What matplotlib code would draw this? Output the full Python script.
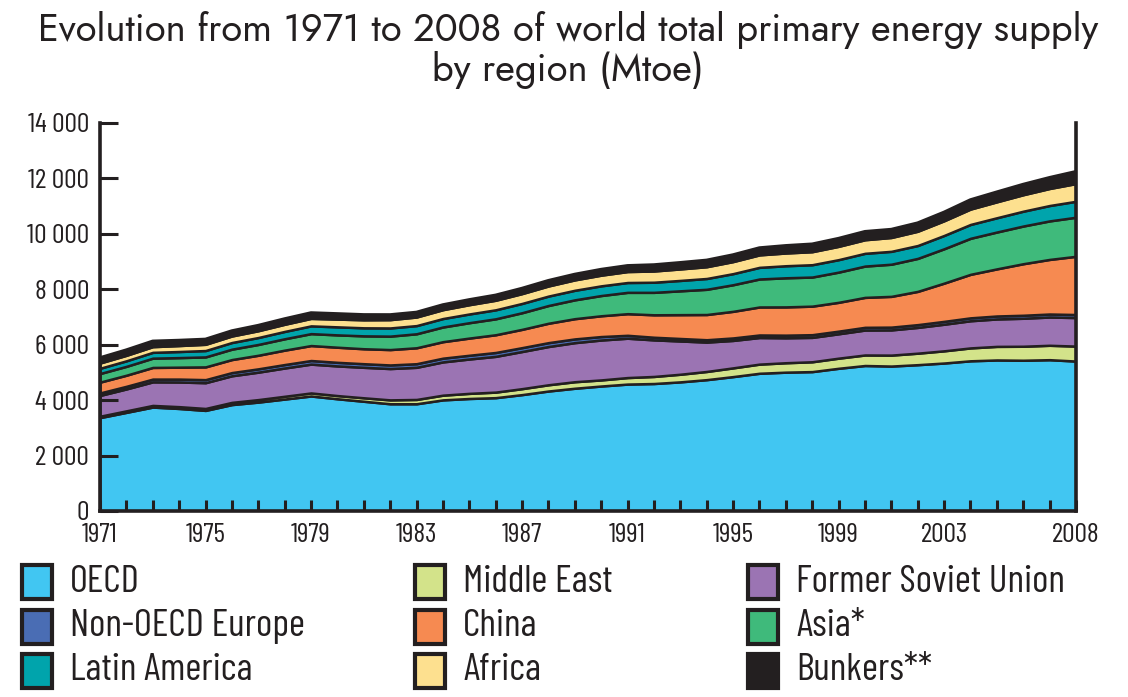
import matplotlib
matplotlib.use("Agg")
import matplotlib.pyplot as plt
from matplotlib.patches import Rectangle
import numpy as np

years = list(range(1971, 2009))

oecd = [3370, 3560, 3750, 3700, 3630, 3840, 3930, 4040, 4150, 4050, 3960, 3870, 3870,
        4010, 4060, 4090, 4200, 4330, 4430, 4510, 4580, 4600, 4660, 4740, 4850, 4970,
        5010, 5030, 5150, 5250, 5230, 5280, 5340, 5420, 5450, 5440, 5460, 5410]
middle_east = [50, 55, 60, 65, 70, 80, 90, 100, 110, 115, 125, 140, 155, 170, 185, 200,
               215, 225, 235, 220, 235, 255, 275, 295, 315, 330, 340, 355, 365, 380, 395,
               415, 440, 465, 490, 505, 520, 540]
fsu = [750, 790, 850, 890, 930, 960, 990, 1020, 1040, 1070, 1100, 1130, 1160, 1200, 1240,
       1290, 1340, 1380, 1410, 1440, 1420, 1320, 1200, 1060, 990, 960, 900, 880, 880, 900,
       910, 930, 960, 980, 990, 1010, 1020, 1030]
non_oecd_europe = [90, 95, 100, 105, 110, 115, 120, 125, 130, 130, 130, 130, 130, 135, 135,
                   140, 140, 140, 135, 125, 105, 95, 90, 85, 90, 92, 95, 97, 95, 98, 100,
                   100, 103, 105, 107, 108, 108, 110]
china = [390, 400, 420, 430, 460, 470, 490, 520, 540, 545, 540, 555, 575, 595, 620, 640,
         660, 700, 730, 750, 780, 810, 860, 910, 960, 1010, 1020, 1030, 1040, 1080, 1110,
         1200, 1380, 1570, 1700, 1860, 1970, 2100]
asia = [310, 320, 335, 345, 360, 375, 390, 410, 430, 445, 465, 485, 505, 530, 555, 575,
        600, 640, 680, 730, 770, 810, 860, 910, 960, 1010, 1050, 1050, 1090, 1130, 1160,
        1190, 1240, 1300, 1330, 1360, 1390, 1410]
latin_america = [190, 200, 210, 220, 230, 240, 250, 265, 280, 290, 290, 295, 295, 305, 315,
                 325, 335, 340, 345, 350, 355, 365, 375, 390, 400, 420, 435, 445, 450, 460,
                 465, 465, 480, 500, 515, 535, 555, 575]
africa = [190, 198, 205, 215, 225, 235, 245, 258, 270, 280, 290, 300, 310, 320, 335, 345,
          355, 365, 375, 385, 395, 405, 415, 425, 435, 450, 460, 470, 480, 490, 500, 515,
          530, 555, 575, 595, 615, 640]
bunkers = [175, 180, 185, 175, 170, 172, 178, 183, 188, 180, 170, 163, 158, 162, 166, 170,
           176, 182, 188, 195, 200, 210, 215, 222, 230, 240, 252, 262, 272, 282, 278, 285,
           295, 320, 340, 360, 380, 420]

stack_order = ["OECD", "Middle East", "Former Soviet Union", "Non-OECD Europe", "China",
               "Asia*", "Latin America", "Africa", "Bunkers**"]
stack_values = [oecd, middle_east, fsu, non_oecd_europe, china, asia, latin_america,
                africa, bunkers]
colors = {
    "OECD": "#41c6f2",
    "Middle East": "#d3e38a",
    "Former Soviet Union": "#9b74b3",
    "Non-OECD Europe": "#4a6db4",
    "China": "#f68a51",
    "Asia*": "#3fba7b",
    "Latin America": "#00a4ac",
    "Africa": "#fde08f",
    "Bunkers**": "#231f20",
}
legend_cols = [["OECD", "Non-OECD Europe", "Latin America"],
               ["Middle East", "China", "Africa"],
               ["Former Soviet Union", "Asia*", "Bunkers**"]]

xtick_labels = [1971, 1975, 1979, 1983, 1987, 1991, 1995, 1999, 2003, 2008]
yticks = list(range(0, 14001, 2000))

DARK = "#231f20"
COND = ["Barlow Condensed", "DejaVu Sans"]
W, H = 1128, 697
fig = plt.figure(figsize=(W / 100, H / 100), dpi=100)
ax = fig.add_axes([100 / W, 1 - 511 / H, (1076 - 100) / W, (511 - 123) / H])

ax.stackplot(years, *stack_values, colors=[colors[n] for n in stack_order],
             edgecolor=DARK, linewidth=1.8)
ax.plot(years, np.sum(stack_values, axis=0), color=DARK, lw=2.8, solid_joinstyle="round")

ax.set_xlim(1971, 2008)
ax.set_ylim(0, 14000)
for s in ["left", "bottom", "right"]:
    ax.spines[s].set_linewidth(2.6)
    ax.spines[s].set_color(DARK)
    ax.spines[s].set_zorder(5)
ax.spines["top"].set_visible(False)

tickfont = dict(family=COND, size=20)
ax.set_xticks(years)
ax.set_xticklabels([str(y) if y in xtick_labels else "" for y in years], **tickfont)
ax.set_yticks(yticks)
ax.set_yticklabels([f"{v:,}".replace(",", " ") for v in yticks], **tickfont)
ax.tick_params(axis="x", direction="in", length=8, width=2.2, color=DARK, pad=9,
               labelcolor=DARK)
ax.tick_params(axis="y", direction="in", length=13, width=2.2, color=DARK, pad=8,
               labelcolor=DARK)
for t in ax.xaxis.get_major_ticks() + ax.yaxis.get_major_ticks():
    t.tick1line.set_zorder(6)

titlefont = dict(family=["Jost", "DejaVu Sans"], size=27.5, color=DARK)
fig.text(568 / W, 1 - 30 / H, "Evolution from 1971 to 2008 of world total primary energy supply",
         ha="center", va="center", **titlefont)
fig.text(568 / W, 1 - 70 / H, "by region (Mtoe)", ha="center", va="center", **titlefont)

col_x = [22, 415, 748]
row_y = [582, 627, 671]
legfont = dict(family=COND, size=28, color=DARK)
for cx, names in zip(col_x, legend_cols):
    for ry, name in zip(row_y, names):
        fig.add_artist(Rectangle((cx / W, 1 - (ry + 17) / H), 30 / W, 34 / H,
                                 transform=fig.transFigure, facecolor=colors[name],
                                 edgecolor=DARK, linewidth=3))
        fig.text((cx + 48) / W, 1 - ry / H, name, ha="left", va="center", **legfont)

fig.savefig("out.png", dpi=100)
